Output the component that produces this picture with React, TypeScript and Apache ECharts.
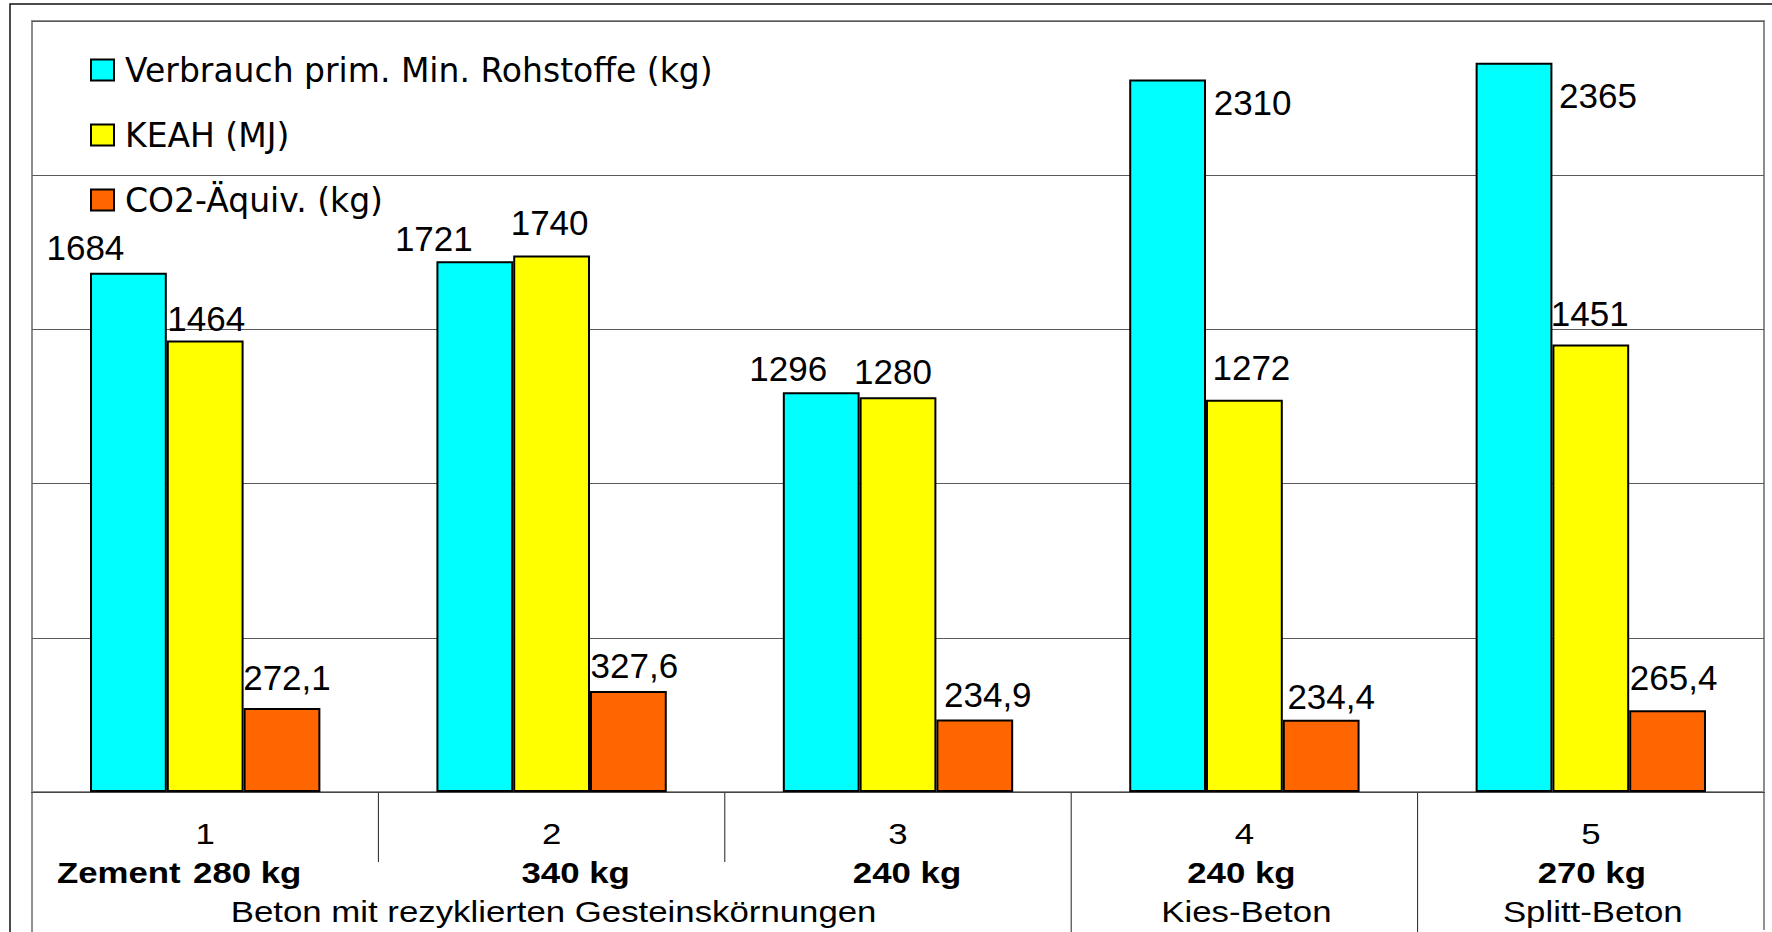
import React, { useEffect, useRef } from 'react';
import * as echarts from 'echarts';

// ---- data ----
const categories = ['1', '2', '3', '4', '5'];
const cementLabels = ['280 kg', '340 kg', '240 kg', '240 kg', '270 kg'];
const seriesNames = ['Verbrauch prim. Min. Rohstoffe (kg)', 'KEAH (MJ)', 'CO2-Äquiv. (kg)'];
const rohstoffe = [1684, 1721, 1296, 2310, 2365];
const keah = [1464, 1740, 1280, 1272, 1451];
const co2 = [272.1, 327.6, 234.9, 234.4, 265.4];
const groupTexts = ['Beton mit rezyklierten Gesteinskörnungen', 'Kies-Beton', 'Splitt-Beton'];
const groupFrom = [0, 3, 4];
const groupTo = [2, 3, 4];
const cementPrefix = 'Zement';
const yMin = 0;
const yMax = 2500;
const yInterval = 500;

// ---- styling (label nudges, like the manually moved labels of the original) ----
const cyanLabelOffsets = [[-43, -3], [-41, 0], [-33, -1], [85, 45], [84, 55]];
const yellowLabelOffsets = [[1, 0], [-2, -10], [-5, -3], [7, -10], [-1, -9]];
const orangeLabelOffsets = [[5, -8], [6, -3], [13, -3], [10, -1], [6, -10]];
const colors = ['#00FFFF', '#FFFF00', '#FF6600'];
const FONT = '"Liberation Sans", Arial, Helvetica, sans-serif';
const LEGEND_FONT = '"DejaVu Sans", "Liberation Sans", Arial, sans-serif';

const fmtInt = (v: number) => String(Math.round(v));
const fmtDec = (v: number) => v.toFixed(1).replace('.', ',');

export default function App() {
  const ref = useRef<HTMLDivElement>(null);

  useEffect(() => {
    document.body.style.margin = '0';
    const chart = echarts.init(ref.current!, null, { renderer: 'svg' });

    const mk = (name: string, vals: number[], offs: number[][], color: string, fmt: (v: number) => string) => ({
      name,
      type: 'bar',
      barGap: '0%',
      barCategoryGap: '33.5%',
      itemStyle: { color, borderColor: '#000', borderWidth: 2 },
      label: {
        show: true,
        position: 'top',
        distance: 5,
        fontSize: 35,
        fontFamily: FONT,
        color: '#000',
        formatter: (p: any) => fmt(p.value),
      },
      data: vals.map((v, i) => ({ value: v, label: { offset: offs[i] } })),
    });

    chart.setOption({
      animation: false,
      backgroundColor: '#fff',
      grid: { left: 32, right: 8, top: 21, bottom: 140, show: true, borderColor: '#8c8c8c', borderWidth: 2, backgroundColor: 'transparent' },
      legend: {
        orient: 'vertical',
        left: 85,
        top: 47,
        itemWidth: 23,
        itemHeight: 21,
        itemGap: 29,
        itemTextGap: 12,
        icon: 'rect',
        selectedMode: false,
        textStyle: { fontSize: 33, fontFamily: LEGEND_FONT, color: '#000', lineHeight: 36, padding: [0, 0, 0, 6] },
        data: seriesNames,
      },
      xAxis: {
        type: 'category',
        data: categories,
        axisLine: { show: true, lineStyle: { color: '#444', width: 1 } },
        axisTick: { show: false },
        axisLabel: { show: false },
      },
      yAxis: {
        type: 'value',
        min: yMin,
        max: yMax,
        interval: yInterval,
        axisLabel: { show: false },
        axisLine: { show: false },
        axisTick: { show: false },
        splitLine: { show: true, lineStyle: { color: '#5a5a5a', width: 1 } },
      },
      series: [
        mk(seriesNames[0], rohstoffe, cyanLabelOffsets, colors[0], fmtInt),
        mk(seriesNames[1], keah, yellowLabelOffsets, colors[1], fmtInt),
        mk(seriesNames[2], co2, orangeLabelOffsets, colors[2], fmtDec),
      ],
    });

    // Table under the plot, positioned from the axis scale
    const centers = categories.map((_, i) => chart.convertToPixel({ xAxisIndex: 0 }, i) as number);
    const band = centers[1] - centers[0];
    const base = chart.convertToPixel({ yAxisIndex: 0 }, 0) as number;
    const leftEdge = centers[0] - band / 2;
    const rightEdge = centers[centers.length - 1] + band / 2;
    const H = 932;
    const W = 1772;
    const g: any[] = [];
    const line = (x1: number, y1: number, x2: number, y2: number, color = '#222', w = 1) =>
      g.push({ type: 'line', silent: true, shape: { x1, y1, x2, y2 }, style: { stroke: color, lineWidth: w } });

    // outer frame (cropped on the right and bottom)
    g.push({ type: 'polyline', silent: true, shape: { points: [[W + 5, 4], [10, 4], [10, H + 5]] }, style: { stroke: '#111', lineWidth: 1.5, fill: null } });
    // table borders
    line(leftEdge, base, leftEdge, H);
    line(rightEdge, base, rightEdge, H - 2);
    for (let i = 0; i < centers.length - 1; i++) {
      const x = centers[i] + band / 2;
      const long = groupTo.indexOf(i) >= 0;
      line(x, base, x, long ? H : base + 70);
    }
    const txt = (text: string, x: number, y: number, bold: boolean, align = 'center') =>
      g.push({
        type: 'text',
        silent: true,
        x,
        y,
        scaleX: 1.16,
        style: {
          text,
          fontSize: 30,
          fontWeight: bold ? 'bold' : 'normal',
          fontFamily: FONT,
          fill: '#000',
          textAlign: align,
          textVerticalAlign: 'middle',
          align,
          verticalAlign: 'middle',
        },
      });
    const cementShift = [42, 24, 9, -3, 1];
    categories.forEach((c, i) => {
      txt(c, centers[i], base + 42, false);
      txt(cementLabels[i], centers[i] + cementShift[i], base + 81, true);
    });
    txt(cementPrefix, 57, base + 81, true, 'left');
    groupTexts.forEach((t, k) => {
      const x = (centers[groupFrom[k]] + centers[groupTo[k]]) / 2 + 2;
      txt(t, x, base + 120, false);
    });

    chart.setOption({ graphic: g });

    return () => chart.dispose();
  }, []);

  return <div ref={ref} style={{ position: 'fixed', left: 0, top: 0, width: 1772, height: 932, background: '#fff' }} />;
}
